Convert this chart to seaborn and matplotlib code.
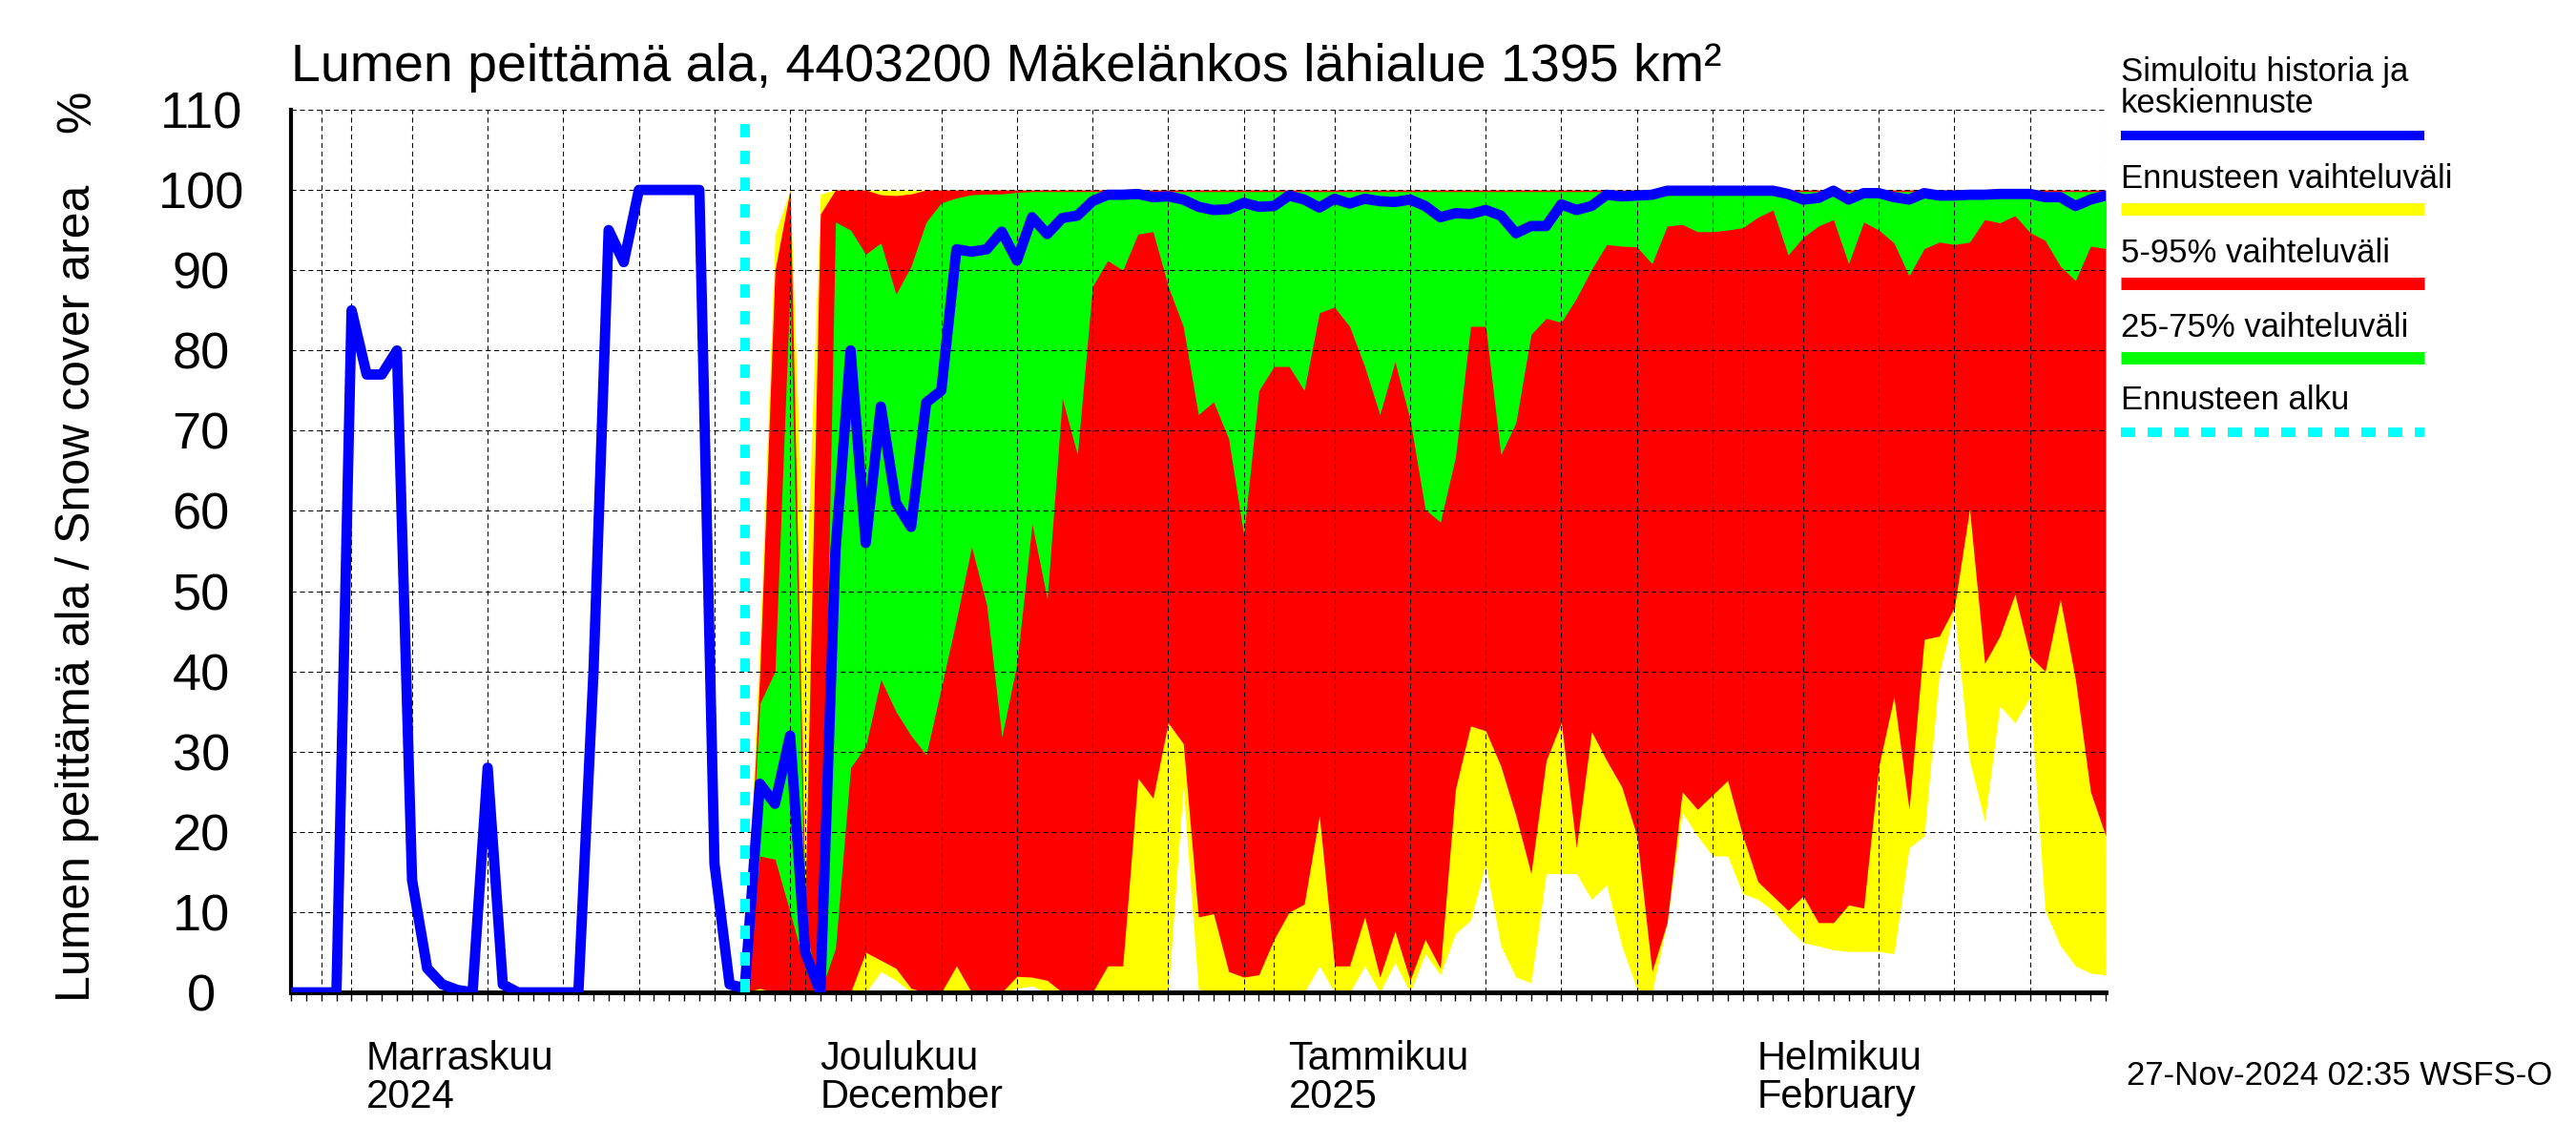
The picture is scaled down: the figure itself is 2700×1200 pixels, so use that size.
import numpy as np
import pandas as pd
import matplotlib
matplotlib.use('Agg')
import matplotlib.pyplot as plt
import matplotlib.dates as mdates
from matplotlib.lines import Line2D
import seaborn as sns

# ---------------------------------------------------------------------------
# Data (daily, 28 Oct 2024 - 25 Feb 2025), snow covered area %
# ---------------------------------------------------------------------------

START = '2024-10-28'
FORECAST_START = '2024-11-27'
END = '2025-02-25'

# simulated history 28.10 - 27.11
history = [0, 0, 0, 0, 85, 77, 77, 80, 14, 3, 1, 0.3, 0, 28, 1, 0, 0, 0, 0, 0,
           40, 95, 91, 100, 100, 100, 100, 100, 16, 1, 0.5]

# forecast median 28.11 - 25.2
median = [26, 23.5, 32, 5, 0, 55, 80, 56, 73, 61, 58, 73.5, 75, 92.6, 92.3, 92.6,
          94.8, 91.2, 96.6, 94.5, 96.5, 96.8, 98.6, 99.4, 99.4, 99.5, 99.1, 99.2,
          98.8, 97.9, 97.5, 97.6, 98.4, 97.9, 98, 99.3, 98.8, 97.8, 98.9, 98.3,
          98.9, 98.6, 98.5, 98.8, 98, 96.6, 97.1, 97, 97.5, 96.8, 94.6, 95.5, 95.5,
          98.2, 97.5, 98, 99.4, 99.2, 99.3, 99.4, 99.9, 99.9, 99.9, 99.9, 99.9,
          99.9, 99.9, 99.9, 99.5, 98.8, 99, 99.9, 98.8, 99.6, 99.6, 99.1, 98.8,
          99.6, 99.3, 99.3, 99.4, 99.4, 99.5, 99.5, 99.5, 99.1, 99.1, 98, 98.8,
          99.3]

# forecast bands 27.11 - 25.2
band_max = [3, 44, 94.5, 100, 47, 99.5] + [100] * 85
band_p95 = [1.5, 40, 90, 100, 12, 97, 100, 100, 100, 99.4, 99.3, 99.5] + [100] * 79
band_p75 = [0.5, 36, 40, 88, 8, 0, 96, 95, 92, 93.4, 87, 90.5, 96, 98.4, 99,
            99.4, 99.5, 99.5, 99.7] + [99.8] * 72
band_p25 = [0.5, 17, 16.6, 10, 3, 0, 5.5, 28, 30.7, 39, 35, 32, 29.6, 38, 46.5,
            55.5, 48.3, 31.8, 41, 58.4, 49, 74, 67, 88, 91.2, 90, 94.5, 94.8, 88,
            83, 72, 73.6, 69, 57, 75, 78, 78, 75, 84.7, 85.4, 83, 78, 72, 78.6,
            71.4, 60.2, 58.6, 66.7, 83, 83, 67, 71, 82, 84, 83.5, 86.5, 90.1, 93.2,
            93, 92.9, 90.8, 95.5, 95.7, 94.8, 94.8, 95, 95.3, 96.6, 97.5, 91.9,
            94.1, 95.5, 96.3, 90.8, 96, 95, 93.4, 89.3, 92.7, 93.5, 93.2, 93.5,
            96.3, 95.9, 96.8, 94.7, 93.7, 90.5, 88.7, 93, 92.7]
band_p5 = [0, 0.5, 0, 0, 0, 0, 0, 0, 5, 4, 3, 0.5, 0, 0, 3.3, 0, 0, 0, 2, 1.9,
           1.5, 0, 0, 0, 3.3, 3.3, 26.7, 24.2, 33.6, 31, 9.4, 9.8, 2.6, 1.9, 2.2,
           6.6, 10, 11, 22, 3.3, 3.3, 9.4, 1.9, 7.6, 1.5, 6.6, 3, 25.3, 33.2, 32.6,
           28.2, 22, 14.8, 28.9, 33.6, 18, 32.5, 28.9, 25.6, 19.5, 2.6, 8.7, 25,
           22.8, 24.6, 26.4, 19.5, 13.8, 12, 10.2, 12, 8.7, 8.7, 10.9, 10.5, 28.2,
           36.8, 22.8, 44, 44.4, 48, 60.2, 41, 44.4, 49.6, 41.9, 40, 49, 39, 25,
           19.5]
band_min = [0, 0, 0, 0, 0, 0, 0, 0, 0, 2.6, 1.5, 0, 0, 0, 0, 0, 0, 0, 0.5, 0.8,
            0, 0, 0, 0, 0, 0, 0, 0, 0, 25.6, 0.4, 0, 0, 0, 0, 0, 0, 0, 3.3, 0, 0,
            3.3, 0, 3.7, 0, 4.8, 2.2, 7.3, 9, 16, 5.8, 1.9, 1.2, 14.8, 14.8, 14.8,
            11.6, 13.4, 5.8, 0.4, 0, 8.7, 22.4, 19.5, 17, 17, 12.3, 11.6, 10.2, 8,
            6.2, 5.8, 5.3, 5.1, 5.1, 5.1, 4.8, 18, 19.5, 39.7, 47.6, 28.9, 21.3,
            35.7, 33.6, 36.8, 10.2, 5.8, 3.3, 2.4, 2.2]

month_starts = ['2024-11-01', '2024-12-01', '2025-01-01', '2025-02-01']
month_labels = ['Marraskuu\n2024', 'Joulukuu\nDecember', 'Tammikuu\n2025', 'Helmikuu\nFebruary']

TITLE = 'Lumen peittämä ala, 4403200 Mäkelänkos lähialue 1395 km²'
YLABEL = 'Lumen peittämä ala / Snow cover area'
LEGEND = [('Simuloitu historia ja\nkeskiennuste', '#0000ff'),
          ('Ennusteen vaihteluväli', '#ffff00'),
          ('5-95% vaihteluväli', '#ff0000'),
          ('25-75% vaihteluväli', '#00ff00'),
          ('Ennusteen alku', '#00ffff')]
STAMP = '27-Nov-2024 02:35 WSFS-O'

# ---------------------------------------------------------------------------
# Style
# ---------------------------------------------------------------------------

sns.set_style('white')
plt.rcParams['font.family'] = ['Liberation Sans', 'DejaVu Sans']
plt.rcParams['text.color'] = 'black'
plt.rcParams['axes.labelcolor'] = 'black'
plt.rcParams['xtick.color'] = 'black'
plt.rcParams['ytick.color'] = 'black'

days = pd.date_range(START, END, freq='D')
fc_days = pd.date_range(FORECAST_START, END, freq='D')
line_df = pd.DataFrame({'date': days, 'value': history + median})
bands = pd.DataFrame({'date': fc_days, 'min': band_min, 'p5': band_p5, 'p25': band_p25,
                      'p75': band_p75, 'p95': band_p95, 'max': band_max})

fig = plt.figure(figsize=(27, 12), dpi=100)
ax = fig.add_axes([0.113, 0.1333, 0.7044, 0.7709])

ax.fill_between(bands['date'], bands['min'], bands['max'], color='#ffff00', lw=0, zorder=1)
ax.fill_between(bands['date'], bands['p5'], bands['p95'], color='#ff0000', lw=0, zorder=1.1)
ax.fill_between(bands['date'], bands['p25'], bands['p75'], color='#00ff00', lw=0, zorder=1.2)

sns.lineplot(data=line_df, x='date', y='value', color='#0000ff', linewidth=7.8,
             ax=ax, zorder=3, legend=False)
ax.axvline(pd.Timestamp(FORECAST_START), ymin=0, ymax=108.5 / 110, color='#00ffff',
           lw=7.2, linestyle=(0, (1.4, 1.4)), zorder=3.5)

ax.set_xlim(days[0], days[-1])
ax.set_ylim(0, 110)
ax.set_xlabel('')
ax.set_ylabel('')

# x ticks: month starts (long), every 5th day (medium), every day (short)
five_days = [d for d in days if d.day in (5, 10, 15, 20, 25, 30)]
ax.set_xticks(pd.to_datetime(month_starts))
ax.set_xticks(five_days, minor=True)
ax.tick_params(axis='x', which='major', direction='out', length=50, width=1,
               labelbottom=False, color='black')
ax.tick_params(axis='x', which='minor', direction='out', length=24.5, width=1,
               labelbottom=False, color='black')
ax.xaxis.get_major_ticks()[2].tick1line.set_markeredgewidth(2.5)

sec = ax.secondary_xaxis('bottom')
sec.set_xticks(mdates.date2num(days))
sec.tick_params(axis='x', direction='out', length=6.5, width=1, labelbottom=False,
                color='black')
sec.spines['bottom'].set_visible(False)

ax.set_yticks(np.arange(0, 111, 10))
ax.tick_params(axis='y', direction='in', length=32, width=2.5, pad=68, labelsize=39,
               color='black', labelcolor='black')
plt.setp(ax.yaxis.get_majorticklabels(), ha='center')

grid_kw = dict(color='black', lw=0.75, linestyle=(0, (5, 3.5)))
ax.grid(True, axis='y', which='major', **grid_kw)
ax.grid(True, axis='x', which='both', **grid_kw)
ax.set_axisbelow(False)

for side in ['top', 'right']:
    ax.spines[side].set_visible(False)
ax.spines['left'].set_linewidth(3)
ax.spines['bottom'].set_linewidth(3.5)
ax.spines['left'].set_color('black')
ax.spines['bottom'].set_color('black')

for date, label in zip(month_starts, month_labels):
    ax.annotate(label, xy=(pd.Timestamp(date), 0), xycoords=('data', 'axes fraction'),
                xytext=(11, -36), textcoords='offset points', ha='left', va='top',
                fontsize=30, linespacing=1.0, color='black')

# texts
fig.text(0.113, 0.929, TITLE, fontsize=40, va='baseline', ha='left', color='black')
fig.text(0.030, 0.482, YLABEL, fontsize=36, rotation=90, ha='center', va='center',
         color='black')
fig.text(0.030, 0.9025, '%', fontsize=36, rotation=90, ha='center', va='center',
         color='black')
fig.text(0.991, 0.0608, STAMP, fontsize=25, ha='right', va='center', color='black')

# legend, drawn by hand to the right of the plot
lx0, lx1 = 0.8233, 0.9411
text_y = [(0.9292, 0.9017), 0.8358, 0.7708, 0.7058, 0.6425]
line_y = [0.8817, 0.8175, 0.7525, 0.6875, 0.6225]
for (label, color), ty, ly in zip(LEGEND, text_y, line_y):
    if isinstance(ty, tuple):
        for part, y in zip(label.split('\n'), ty):
            fig.text(lx0, y, part, fontsize=25, va='baseline', ha='left', color='black')
    else:
        fig.text(lx0, ty, label, fontsize=25, va='baseline', ha='left', color='black')
    if color == '#00ffff':
        fig.add_artist(Line2D([lx0, lx1], [ly, ly], transform=fig.transFigure,
                              color=color, lw=7.2, linestyle=(0, (1.5, 1.3)),
                              solid_capstyle='butt', dash_capstyle='butt'))
    else:
        lw = 7.2 if color == '#0000ff' else 9.4
        fig.add_artist(Line2D([lx0, lx1], [ly, ly], transform=fig.transFigure,
                              color=color, lw=lw, solid_capstyle='butt'))

fig.savefig('out.png', dpi=100)
